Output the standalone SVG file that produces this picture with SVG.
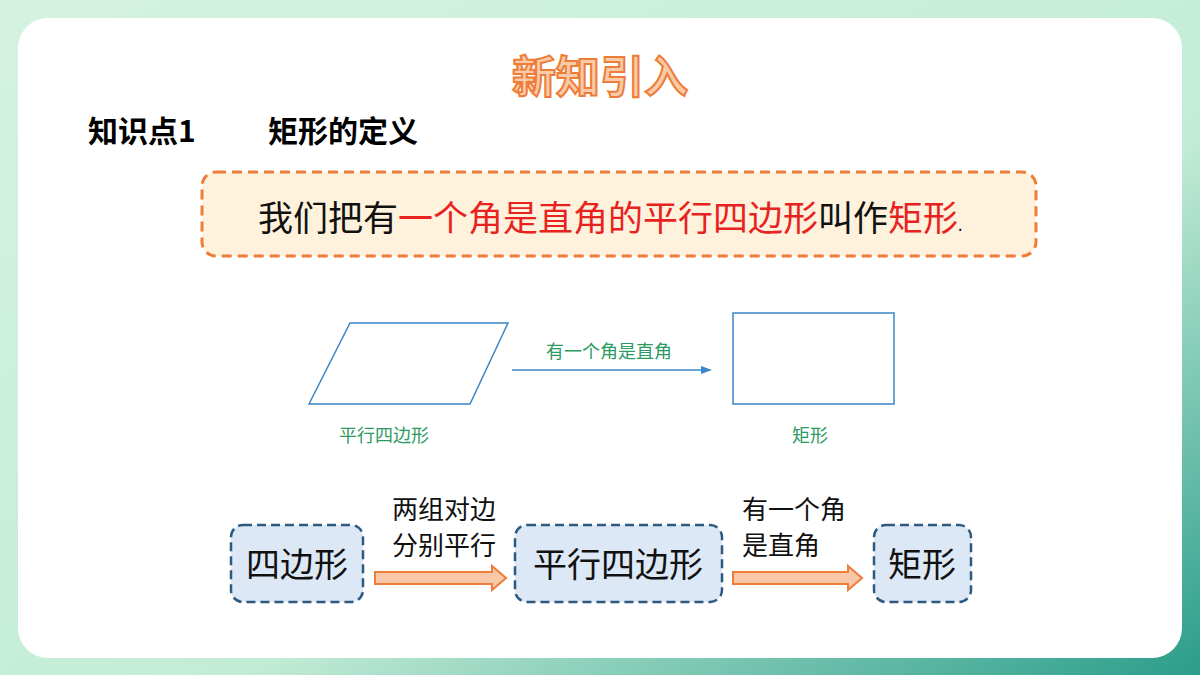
<svg xmlns="http://www.w3.org/2000/svg" width="1200" height="675" viewBox="0 0 1200 675">
<defs>
<linearGradient id="bg" x1="0" y1="0" x2="1" y2="1"><stop offset="0" stop-color="#d4f3e0"/><stop offset="0.6" stop-color="#c3ecd6"/><stop offset="1" stop-color="#2a9d8a"/></linearGradient>
<style>
.t{font-family:"Noto Sans CJK SC","Noto Sans",sans-serif}
.box{fill:#dce8f5;stroke:#2f5a80;stroke-width:2.5;stroke-dasharray:9 5}
.bt{font-family:"Noto Sans CJK SC",sans-serif;font-size:34px;fill:#111}
.lt{font-family:"Noto Sans CJK SC",sans-serif;font-size:26px;fill:#111}
.ar{fill:#f8c8a8;stroke:#ee7d3a;stroke-width:2}
.g{font-family:"Noto Sans CJK SC",serif;font-size:18px;fill:#2d9a63}
</style>
</defs>
<rect width="1200" height="675" fill="url(#bg)"/>
<rect x="18" y="18" width="1164" height="640" rx="30" fill="#fff"/>
<text x="600" y="93" text-anchor="middle" class="t" font-size="44" font-weight="bold" fill="#f9cba8" stroke="#ee7d3a" stroke-width="2">新知引入</text>
<text x="88" y="142" class="t" font-size="30" font-weight="bold" fill="#000">知识点1</text>
<text x="268" y="142" class="t" font-size="30" font-weight="bold" fill="#000">矩形的定义</text>
<rect x="202" y="172" width="834" height="84" rx="14" fill="#fef2dc" stroke="#ee7d3a" stroke-width="3" stroke-dasharray="10 6"/>
<text x="258" y="231" class="t" font-size="35" fill="#111">我们把有<tspan fill="#e8231f">一个角是直角的平行四边形</tspan>叫作<tspan fill="#e8231f">矩形</tspan><tspan font-size="16">.</tspan></text>
<g id="para"><polygon points="309,404 350,323 508,323 470,404" fill="none" stroke="#3a86c8" stroke-width="1.5"/><text x="384" y="442" text-anchor="middle" class="g">平行四边形</text></g>
<g id="rectfig"><rect x="733" y="313" width="161" height="91" fill="none" stroke="#3a86c8" stroke-width="1.5"/><text x="810" y="442" text-anchor="middle" class="g">矩形</text></g>
<g id="connectors">
<line x1="512" y1="370" x2="702" y2="370" stroke="#3a86c8" stroke-width="1.5"/>
<polygon points="712,370 701,366 701,374" fill="#3a86c8"/>
<text x="609" y="358" text-anchor="middle" class="g">有一个角是直角</text>
<polygon class="ar" points="375,572 492,572 492,566 506,578 492,590 492,584 375,584"/>
<polygon class="ar" points="733,572 848,572 848,566 862,578 848,590 848,584 733,584"/>
<text x="444" y="519" text-anchor="middle" class="lt">两组对边</text>
<text x="444" y="555" text-anchor="middle" class="lt">分别平行</text>
<text x="742" y="519" class="lt">有一个角</text>
<text x="742" y="555" class="lt">是直角</text>
</g>
<g id="n1"><rect class="box" x="231" y="525" width="132" height="77" rx="12"/><text x="297" y="577" text-anchor="middle" class="bt">四边形</text></g>
<g id="n2"><rect class="box" x="515" y="525" width="207" height="77" rx="12"/><text x="618" y="577" text-anchor="middle" class="bt">平行四边形</text></g>
<g id="n3"><rect class="box" x="874" y="525" width="97" height="77" rx="12"/><text x="922" y="577" text-anchor="middle" class="bt">矩形</text></g>
</svg>
